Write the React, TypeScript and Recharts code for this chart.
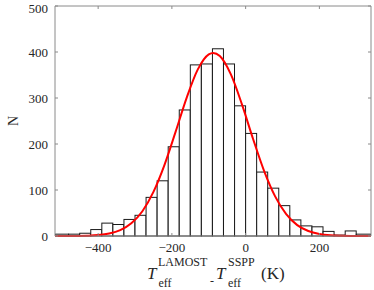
import { ComposedChart, Bar, Line, XAxis, YAxis } from "recharts";

// histogram bins: centres (30 K apart), edges (outer bins run to the axis limits) and counts
const binCenters = [
  -495, -465, -435, -405, -375, -345, -315, -285, -255, -225, -195, -165, -135, -105,
  -75, -45, -15, 15, 45, 75, 105, 135, 165, 195, 225, 255, 285, 315,
];
const binEdges = [
  -517, -480, -450, -420, -390, -360, -330, -300, -270, -240, -210, -180, -150, -120, -90,
  -60, -30, 0, 30, 60, 90, 120, 150, 180, 210, 240, 270, 300, 340,
];
const counts = [
  4, 4, 6, 14, 28, 25, 36, 45, 84, 120, 194, 274, 372, 374,
  407, 374, 283, 223, 139, 104, 66, 35, 22, 20, 10, 2, 11, 4,
];

// red fitted curve
const fitX = [
  -517, -490, -460, -430, -400, -370, -340, -310, -280, -250, -220, -190, -160, -130,
  -100, -88, -70, -40, -10, 20, 50, 80, 110, 140, 170, 200, 230, 260, 290, 320, 340,
];
const fitN = [
  0, 0, 0.2, 0.7, 2, 5.3, 12.7, 27.5, 53.9, 95.8, 154.7, 226.3, 300.4, 361.7,
  394.9, 398, 391.1, 351.2, 286.1, 211.4, 141.6, 86.1, 47.4, 23.7, 10.8, 4.4, 1.6, 0.6, 0.2, 0, 0,
];

const xTicks = [-400, -200, 0, 200];
const yTicks = [0, 100, 200, 300, 400, 500];
const xDomain = [-517, 340];
const yDomain = [0, 500];
const binWidth = 30;

const bins = binCenters.map((x, i) => ({
  x,
  lo: binEdges[i],
  hi: binEdges[i + 1],
  n: counts[i],
}));
const fit = fitX.map((x, i) => ({ x, n: fitN[i] }));

const serif = '"Liberation Serif", "Times New Roman", Times, "DejaVu Serif", serif';
const axisGray = "#8a8a8a";
const ink = "#262626";
const tickStyle = { fill: ink, fontSize: 13, style: { fontFamily: serif } };
const minus = (v: number) => String(v).replace("-", "\u2212");
const blank = () => "";

// bar drawn over its real edges (outer bins are wider than 30 K)
function HistBar(p: any) {
  const { x, y, width, height, payload } = p;
  if (!payload || height == null) return null;
  const u = width / binWidth;
  const left = x + (payload.lo - (payload.x - binWidth / 2)) * u;
  const right = x + width + (payload.hi - (payload.x + binWidth / 2)) * u;
  return (
    <rect
      x={left}
      y={y}
      width={right - left}
      height={height}
      fill="#ffffff"
      stroke="#1a1a1a"
      strokeWidth={1}
    />
  );
}

function XTitle(props: any) {
  const vb = props.viewBox || {};
  const cx = vb.x + vb.width / 2;
  const y = vb.y;
  const big = { fontSize: 17, fill: ink, style: { fontFamily: serif } };
  const small = { fontSize: 12, fill: ink, style: { fontFamily: serif } };
  return (
    <g>
      <text x={cx - 66} y={y + 43} {...big} fontStyle="italic">T</text>
      <text x={cx - 55} y={y + 29.5} {...small}>LAMOST</text>
      <text x={cx - 54.5} y={y + 51} {...small}>eff</text>
      <text x={cx - 3} y={y + 49} {...small}>-</text>
      <text x={cx + 3} y={y + 43} {...big} fontStyle="italic">T</text>
      <text x={cx + 15} y={y + 29.5} {...small}>SSPP</text>
      <text x={cx + 15} y={y + 51} {...small}>eff</text>
      <text x={cx + 48} y={y + 43} {...big}>(K)</text>
    </g>
  );
}

function YTitle(props: any) {
  const vb = props.viewBox || {};
  const cy = vb.y + vb.height / 2;
  return (
    <text
      x={18}
      y={cy}
      transform={`rotate(-90, 18, ${cy})`}
      textAnchor="middle"
      fontSize={14}
      fill={ink}
      style={{ fontFamily: serif }}
    >
      N
    </text>
  );
}

export default function App() {
  return (
    <div style={{ position: "absolute", left: 0, top: 0, background: "#fff", fontFamily: serif }}>
      <ComposedChart
        width={374}
        height={290}
        data={bins}
        margin={{ top: 5, right: 2, bottom: 0, left: 0 }}
        barCategoryGap={0}
        style={{ fontFamily: serif }}
      >
        <XAxis
          xAxisId="bottom"
          dataKey="x"
          type="number"
          domain={xDomain}
          allowDataOverflow
          ticks={xTicks}
          tickFormatter={minus}
          tick={tickStyle}
          tickSize={-3}
          tickMargin={10}
          stroke={axisGray}
          height={54}
          label={(p: any) => <XTitle {...p} />}
        />
        <XAxis
          xAxisId="top"
          orientation="top"
          dataKey="x"
          type="number"
          domain={xDomain}
          allowDataOverflow
          ticks={xTicks}
          tickFormatter={blank}
          tickSize={-3}
          stroke={axisGray}
          height={1}
        />
        <YAxis
          yAxisId="left"
          domain={yDomain}
          ticks={yTicks}
          tick={tickStyle}
          tickSize={-3}
          tickMargin={10}
          stroke={axisGray}
          width={55}
          label={(p: any) => <YTitle {...p} />}
        />
        <YAxis
          yAxisId="right"
          orientation="right"
          domain={yDomain}
          ticks={yTicks}
          tickFormatter={blank}
          tickSize={-3}
          stroke={axisGray}
          width={1}
        />
        <Bar
          xAxisId="bottom"
          yAxisId="left"
          dataKey="n"
          shape={HistBar}
          isAnimationActive={false}
        />
        <Line
          xAxisId="top"
          yAxisId="right"
          data={fit}
          dataKey="n"
          type="monotone"
          stroke="#ff0000"
          strokeWidth={2}
          dot={false}
          isAnimationActive={false}
        />
      </ComposedChart>
    </div>
  );
}
